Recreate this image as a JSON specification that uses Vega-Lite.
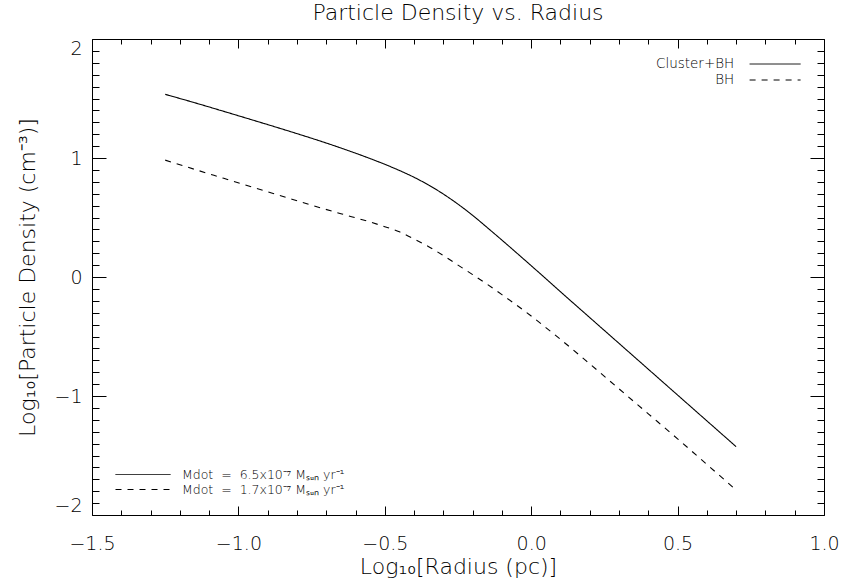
{
  "$schema": "https://vega.github.io/schema/vega-lite/v6.json",
  "width": 732,
  "height": 476,
  "autosize": {"type": "none"},
  "padding": {"left": 92, "top": 39, "right": 22, "bottom": 71},
  "background": "white",
  "title": {"text": "Particle Density vs. Radius", "fontSize": 22, "font": "DejaVu Sans", "fontWeight": 200, "color": "black", "offset": -3, "baseline": "alphabetic", "anchor": "middle"},
  "config": {
    "view": {"stroke": "black", "strokeWidth": 1},
    "font": "DejaVu Sans",
    "axis": {"domain": false, "grid": false, "tickColor": "black", "tickWidth": 1, "labelColor": "black", "titleColor": "black", "labelFontSize": 19, "titleFontSize": 22, "titleFontWeight": 200, "labelFontWeight": 200, "labelFont": "DejaVu Sans", "titleFont": "DejaVu Sans"},
    "legend": {"labelFont": "DejaVu Sans", "labelFontWeight": 200, "labelColor": "black", "labelLimit": 400, "padding": 0, "symbolStrokeWidth": 1, "symbolStrokeColor": "black", "symbolType": "stroke", "title": null}
  },
  "datasets": {
    "curves": [
      {"x": -1.25, "y": 1.535, "series": "Cluster+BH", "mdot": "Mdot\u00a0 =\u00a0 6.5x10⁻⁷ Mₛᵤₙ yr⁻¹"},
      {"x": -1.15, "y": 1.465, "series": "Cluster+BH", "mdot": "Mdot\u00a0 =\u00a0 6.5x10⁻⁷ Mₛᵤₙ yr⁻¹"},
      {"x": -1.05, "y": 1.392, "series": "Cluster+BH", "mdot": "Mdot\u00a0 =\u00a0 6.5x10⁻⁷ Mₛᵤₙ yr⁻¹"},
      {"x": -0.95, "y": 1.318, "series": "Cluster+BH", "mdot": "Mdot\u00a0 =\u00a0 6.5x10⁻⁷ Mₛᵤₙ yr⁻¹"},
      {"x": -0.85, "y": 1.243, "series": "Cluster+BH", "mdot": "Mdot\u00a0 =\u00a0 6.5x10⁻⁷ Mₛᵤₙ yr⁻¹"},
      {"x": -0.75, "y": 1.166, "series": "Cluster+BH", "mdot": "Mdot\u00a0 =\u00a0 6.5x10⁻⁷ Mₛᵤₙ yr⁻¹"},
      {"x": -0.65, "y": 1.084, "series": "Cluster+BH", "mdot": "Mdot\u00a0 =\u00a0 6.5x10⁻⁷ Mₛᵤₙ yr⁻¹"},
      {"x": -0.55, "y": 0.995, "series": "Cluster+BH", "mdot": "Mdot\u00a0 =\u00a0 6.5x10⁻⁷ Mₛᵤₙ yr⁻¹"},
      {"x": -0.50, "y": 0.947, "series": "Cluster+BH", "mdot": "Mdot\u00a0 =\u00a0 6.5x10⁻⁷ Mₛᵤₙ yr⁻¹"},
      {"x": -0.45, "y": 0.895, "series": "Cluster+BH", "mdot": "Mdot\u00a0 =\u00a0 6.5x10⁻⁷ Mₛᵤₙ yr⁻¹"},
      {"x": -0.40, "y": 0.838, "series": "Cluster+BH", "mdot": "Mdot\u00a0 =\u00a0 6.5x10⁻⁷ Mₛᵤₙ yr⁻¹"},
      {"x": -0.35, "y": 0.772, "series": "Cluster+BH", "mdot": "Mdot\u00a0 =\u00a0 6.5x10⁻⁷ Mₛᵤₙ yr⁻¹"},
      {"x": -0.30, "y": 0.697, "series": "Cluster+BH", "mdot": "Mdot\u00a0 =\u00a0 6.5x10⁻⁷ Mₛᵤₙ yr⁻¹"},
      {"x": -0.25, "y": 0.612, "series": "Cluster+BH", "mdot": "Mdot\u00a0 =\u00a0 6.5x10⁻⁷ Mₛᵤₙ yr⁻¹"},
      {"x": -0.20, "y": 0.518, "series": "Cluster+BH", "mdot": "Mdot\u00a0 =\u00a0 6.5x10⁻⁷ Mₛᵤₙ yr⁻¹"},
      {"x": -0.15, "y": 0.415, "series": "Cluster+BH", "mdot": "Mdot\u00a0 =\u00a0 6.5x10⁻⁷ Mₛᵤₙ yr⁻¹"},
      {"x": -0.10, "y": 0.31, "series": "Cluster+BH", "mdot": "Mdot\u00a0 =\u00a0 6.5x10⁻⁷ Mₛᵤₙ yr⁻¹"},
      {"x": -0.05, "y": 0.203, "series": "Cluster+BH", "mdot": "Mdot\u00a0 =\u00a0 6.5x10⁻⁷ Mₛᵤₙ yr⁻¹"},
      {"x": 0.00, "y": 0.095, "series": "Cluster+BH", "mdot": "Mdot\u00a0 =\u00a0 6.5x10⁻⁷ Mₛᵤₙ yr⁻¹"},
      {"x": 0.05, "y": -0.014, "series": "Cluster+BH", "mdot": "Mdot\u00a0 =\u00a0 6.5x10⁻⁷ Mₛᵤₙ yr⁻¹"},
      {"x": 0.10, "y": -0.124, "series": "Cluster+BH", "mdot": "Mdot\u00a0 =\u00a0 6.5x10⁻⁷ Mₛᵤₙ yr⁻¹"},
      {"x": 0.20, "y": -0.341, "series": "Cluster+BH", "mdot": "Mdot\u00a0 =\u00a0 6.5x10⁻⁷ Mₛᵤₙ yr⁻¹"},
      {"x": 0.30, "y": -0.558, "series": "Cluster+BH", "mdot": "Mdot\u00a0 =\u00a0 6.5x10⁻⁷ Mₛᵤₙ yr⁻¹"},
      {"x": 0.40, "y": -0.775, "series": "Cluster+BH", "mdot": "Mdot\u00a0 =\u00a0 6.5x10⁻⁷ Mₛᵤₙ yr⁻¹"},
      {"x": 0.50, "y": -0.992, "series": "Cluster+BH", "mdot": "Mdot\u00a0 =\u00a0 6.5x10⁻⁷ Mₛᵤₙ yr⁻¹"},
      {"x": 0.60, "y": -1.209, "series": "Cluster+BH", "mdot": "Mdot\u00a0 =\u00a0 6.5x10⁻⁷ Mₛᵤₙ yr⁻¹"},
      {"x": 0.70, "y": -1.426, "series": "Cluster+BH", "mdot": "Mdot\u00a0 =\u00a0 6.5x10⁻⁷ Mₛᵤₙ yr⁻¹"},
      {"x": -1.25, "y": 0.982, "series": "BH", "mdot": "Mdot\u00a0 =\u00a0 1.7x10⁻⁷ Mₛᵤₙ yr⁻¹"},
      {"x": -1.15, "y": 0.905, "series": "BH", "mdot": "Mdot\u00a0 =\u00a0 1.7x10⁻⁷ Mₛᵤₙ yr⁻¹"},
      {"x": -1.05, "y": 0.829, "series": "BH", "mdot": "Mdot\u00a0 =\u00a0 1.7x10⁻⁷ Mₛᵤₙ yr⁻¹"},
      {"x": -0.95, "y": 0.753, "series": "BH", "mdot": "Mdot\u00a0 =\u00a0 1.7x10⁻⁷ Mₛᵤₙ yr⁻¹"},
      {"x": -0.85, "y": 0.678, "series": "BH", "mdot": "Mdot\u00a0 =\u00a0 1.7x10⁻⁷ Mₛᵤₙ yr⁻¹"},
      {"x": -0.75, "y": 0.603, "series": "BH", "mdot": "Mdot\u00a0 =\u00a0 1.7x10⁻⁷ Mₛᵤₙ yr⁻¹"},
      {"x": -0.65, "y": 0.532, "series": "BH", "mdot": "Mdot\u00a0 =\u00a0 1.7x10⁻⁷ Mₛᵤₙ yr⁻¹"},
      {"x": -0.55, "y": 0.462, "series": "BH", "mdot": "Mdot\u00a0 =\u00a0 1.7x10⁻⁷ Mₛᵤₙ yr⁻¹"},
      {"x": -0.50, "y": 0.423, "series": "BH", "mdot": "Mdot\u00a0 =\u00a0 1.7x10⁻⁷ Mₛᵤₙ yr⁻¹"},
      {"x": -0.45, "y": 0.38, "series": "BH", "mdot": "Mdot\u00a0 =\u00a0 1.7x10⁻⁷ Mₛᵤₙ yr⁻¹"},
      {"x": -0.40, "y": 0.32, "series": "BH", "mdot": "Mdot\u00a0 =\u00a0 1.7x10⁻⁷ Mₛᵤₙ yr⁻¹"},
      {"x": -0.35, "y": 0.255, "series": "BH", "mdot": "Mdot\u00a0 =\u00a0 1.7x10⁻⁷ Mₛᵤₙ yr⁻¹"},
      {"x": -0.30, "y": 0.18, "series": "BH", "mdot": "Mdot\u00a0 =\u00a0 1.7x10⁻⁷ Mₛᵤₙ yr⁻¹"},
      {"x": -0.25, "y": 0.10, "series": "BH", "mdot": "Mdot\u00a0 =\u00a0 1.7x10⁻⁷ Mₛᵤₙ yr⁻¹"},
      {"x": -0.20, "y": 0.02, "series": "BH", "mdot": "Mdot\u00a0 =\u00a0 1.7x10⁻⁷ Mₛᵤₙ yr⁻¹"},
      {"x": -0.15, "y": -0.062, "series": "BH", "mdot": "Mdot\u00a0 =\u00a0 1.7x10⁻⁷ Mₛᵤₙ yr⁻¹"},
      {"x": -0.10, "y": -0.148, "series": "BH", "mdot": "Mdot\u00a0 =\u00a0 1.7x10⁻⁷ Mₛᵤₙ yr⁻¹"},
      {"x": -0.05, "y": -0.236, "series": "BH", "mdot": "Mdot\u00a0 =\u00a0 1.7x10⁻⁷ Mₛᵤₙ yr⁻¹"},
      {"x": 0.00, "y": -0.328, "series": "BH", "mdot": "Mdot\u00a0 =\u00a0 1.7x10⁻⁷ Mₛᵤₙ yr⁻¹"},
      {"x": 0.05, "y": -0.425, "series": "BH", "mdot": "Mdot\u00a0 =\u00a0 1.7x10⁻⁷ Mₛᵤₙ yr⁻¹"},
      {"x": 0.10, "y": -0.524, "series": "BH", "mdot": "Mdot\u00a0 =\u00a0 1.7x10⁻⁷ Mₛᵤₙ yr⁻¹"},
      {"x": 0.20, "y": -0.73, "series": "BH", "mdot": "Mdot\u00a0 =\u00a0 1.7x10⁻⁷ Mₛᵤₙ yr⁻¹"},
      {"x": 0.30, "y": -0.94, "series": "BH", "mdot": "Mdot\u00a0 =\u00a0 1.7x10⁻⁷ Mₛᵤₙ yr⁻¹"},
      {"x": 0.40, "y": -1.15, "series": "BH", "mdot": "Mdot\u00a0 =\u00a0 1.7x10⁻⁷ Mₛᵤₙ yr⁻¹"},
      {"x": 0.50, "y": -1.36, "series": "BH", "mdot": "Mdot\u00a0 =\u00a0 1.7x10⁻⁷ Mₛᵤₙ yr⁻¹"},
      {"x": 0.60, "y": -1.575, "series": "BH", "mdot": "Mdot\u00a0 =\u00a0 1.7x10⁻⁷ Mₛᵤₙ yr⁻¹"},
      {"x": 0.70, "y": -1.79, "series": "BH", "mdot": "Mdot\u00a0 =\u00a0 1.7x10⁻⁷ Mₛᵤₙ yr⁻¹"}
    ]
  },
  "data": {"name": "curves"},
  "layer": [
    {
      "mark": {"type": "line", "color": "black", "strokeWidth": 1.1, "interpolate": "monotone"},
      "encoding": {
        "x": {"field": "x", "type": "quantitative", "scale": {"domain": [-1.5, 1.0], "nice": false, "zero": false},
              "axis": {"orient": "bottom", "values": [-1.5, -1.0, -0.5, 0.0, 0.5, 1.0], "format": ".1f", "tickSize": -9, "labelPadding": 28, "labelFlush": false, "title": "Log₁₀[Radius (pc)]", "titlePadding": 3}},
        "y": {"field": "y", "type": "quantitative", "scale": {"domain": [-2, 2], "nice": false, "zero": false},
              "axis": {"orient": "left", "values": [-2, -1, 0, 1, 2], "format": "d", "tickSize": -14, "labelPadding": 24, "labelFlush": true, "title": "Log₁₀[Particle Density (cm⁻³)]", "titlePadding": 14}},
        "strokeDash": {"field": "series", "type": "nominal",
              "scale": {"domain": ["Cluster+BH", "BH"], "range": [[1, 0], [6, 6]]},
              "legend": {"orient": "none", "legendX": 657, "legendY": 18, "symbolType": "M-4,0H4", "symbolSize": 162.6, "symbolOffset": 19.1, "rowPadding": 2, "labelAlign": "right", "labelOffset": -47.9, "labelFontSize": 13.5}}
      }
    },
    {
      "mark": {"type": "line", "color": "black", "opacity": 0, "interpolate": "monotone"},
      "encoding": {
        "x": {"field": "x", "type": "quantitative",
              "axis": {"orient": "bottom", "values": [-1.4, -1.3, -1.2, -1.1, -0.9, -0.8, -0.7, -0.6, -0.4, -0.3, -0.2, -0.1, 0.1, 0.2, 0.3, 0.4, 0.6, 0.7, 0.8, 0.9], "tickSize": -5, "labels": false, "title": null}},
        "y": {"field": "y", "type": "quantitative",
              "axis": {"orient": "left", "values": [-1.9, -1.8, -1.7, -1.6, -1.5, -1.4, -1.3, -1.2, -1.1, -0.9, -0.8, -0.7, -0.6, -0.5, -0.4, -0.3, -0.2, -0.1, 0.1, 0.2, 0.3, 0.4, 0.5, 0.6, 0.7, 0.8, 0.9, 1.1, 1.2, 1.3, 1.4, 1.5, 1.6, 1.7, 1.8, 1.9], "tickSize": -7, "labels": false, "title": null}},
        "strokeDash": {"field": "mdot", "type": "nominal",
              "scale": {"domain": ["Mdot\u00a0 =\u00a0 6.5x10⁻⁷ Mₛᵤₙ yr⁻¹", "Mdot\u00a0 =\u00a0 1.7x10⁻⁷ Mₛᵤₙ yr⁻¹"], "range": [[1, 0], [6, 6]]},
              "legend": {"orient": "none", "legendX": 23, "legendY": 429, "symbolSize": 3025, "clipHeight": 13, "rowPadding": 2, "labelAlign": "left", "labelOffset": 11, "labelFontSize": 12.5}}
      }
    },
    {
      "mark": {"type": "line", "color": "black", "opacity": 0},
      "encoding": {
        "x": {"field": "x", "type": "quantitative",
              "axis": {"orient": "top", "values": [-1.5, -1.0, -0.5, 0.0, 0.5, 1.0], "tickSize": -9, "labels": false, "title": null}},
        "y": {"field": "y", "type": "quantitative",
              "axis": {"orient": "right", "values": [-2, -1, 0, 1, 2], "tickSize": -14, "labels": false, "title": null}},
        "detail": {"field": "series"}
      }
    },
    {
      "mark": {"type": "line", "color": "black", "opacity": 0},
      "encoding": {
        "x": {"field": "x", "type": "quantitative",
              "axis": {"orient": "top", "values": [-1.4, -1.3, -1.2, -1.1, -0.9, -0.8, -0.7, -0.6, -0.4, -0.3, -0.2, -0.1, 0.1, 0.2, 0.3, 0.4, 0.6, 0.7, 0.8, 0.9], "tickSize": -5, "labels": false, "title": null}},
        "y": {"field": "y", "type": "quantitative",
              "axis": {"orient": "right", "values": [-1.9, -1.8, -1.7, -1.6, -1.5, -1.4, -1.3, -1.2, -1.1, -0.9, -0.8, -0.7, -0.6, -0.5, -0.4, -0.3, -0.2, -0.1, 0.1, 0.2, 0.3, 0.4, 0.5, 0.6, 0.7, 0.8, 0.9, 1.1, 1.2, 1.3, 1.4, 1.5, 1.6, 1.7, 1.8, 1.9], "tickSize": -7, "labels": false, "title": null}},
        "detail": {"field": "series"}
      }
    }
  ],
  "resolve": {"axis": {"x": "independent", "y": "independent"}, "scale": {"strokeDash": "independent"}}
}
